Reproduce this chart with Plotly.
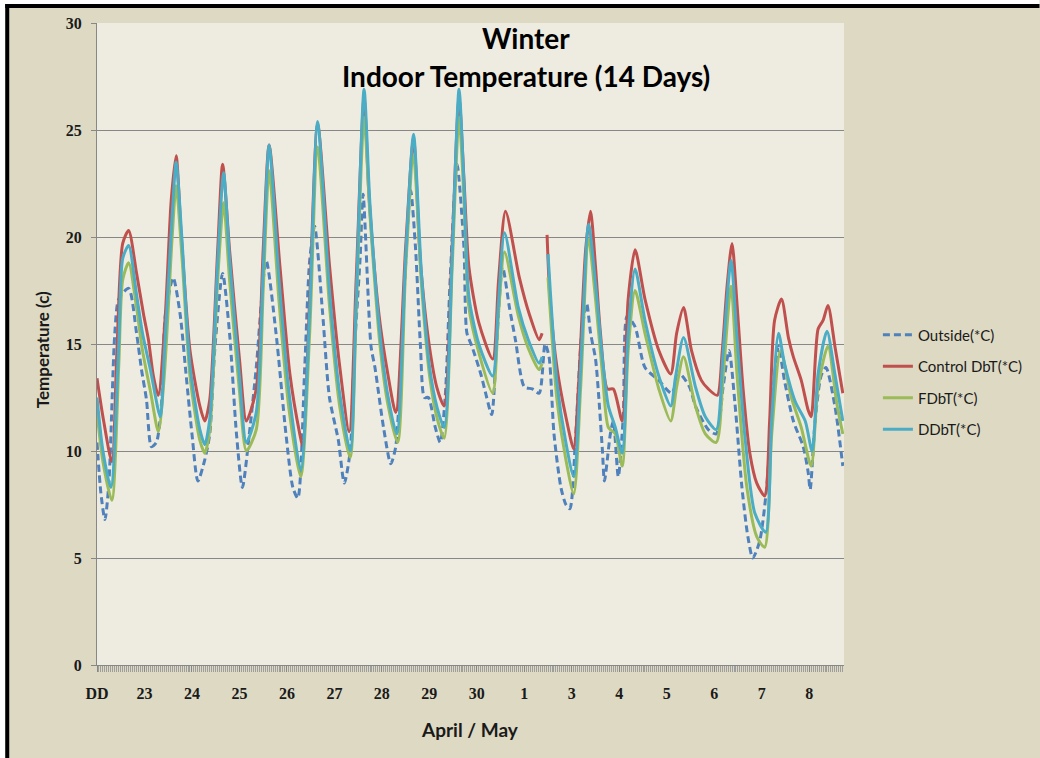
import plotly.graph_objects as go

# ---------------- data (hours since start of record, temperature in deg C) ----------------
day_labels = ["DD", "23", "24", "25", "26", "27", "28", "29", "30", "1", "3", "4", "5", "6", "7", "8"]

outside_h = [0, 2, 4, 6, 9, 11, 16, 20, 22.5, 25, 27.5, 30, 32.5, 34.5, 38.5, 42, 45, 48, 51, 54.5, 57,
             59.5, 63.5, 67, 70.5, 73.5, 77, 80.5, 85.5, 90.5, 95.5, 99, 101.5, 105, 107.5, 110, 114,
             117.5, 122, 125, 128, 130, 133, 134.5, 138.5, 140.5, 145, 148.5, 151, 154, 158.5, 161,
             163.5, 165.5, 167.5, 171, 173.5, 176, 178.5, 182, 185.5, 187, 189.5, 194, 197, 199.5, 202,
             205, 208.5, 211.5, 216, 220, 223.5, 226.5, 228.5, 231, 234.5, 237, 239, 242, 245, 247.5,
             249.5, 252, 253.5, 255.5, 256.5, 259.5, 261, 263.5, 266, 268, 272, 277, 284, 290.5, 294.5,
             299.5, 302.5, 309, 313, 316.5, 319.5, 322.5, 326, 329, 331.5, 335, 338.5, 342, 344.5, 347.5,
             352, 357, 359.5, 360.5, 363, 366, 368.5, 373, 377]
outside_t = [10.4, 8.0, 6.8, 8.5, 15.5, 17.1, 17.6, 15.5, 13.8, 12.4, 10.2, 10.4, 12.1, 16.3, 18.1, 16.4,
             13.6, 10.8, 8.6, 9.6, 10.8, 14.7, 18.3, 15.5, 10.8, 8.3, 10.8, 13.9, 18.9, 15.5, 10.8, 8.3,
             7.8, 13.9, 18.9, 20.5, 16.5, 12.5, 10.5, 8.5, 10.0, 14.5, 19.0, 22.0, 14.9, 13.9, 11.0, 9.4,
             10.2, 15.0, 22.2, 19.5, 14.9, 12.5, 12.5, 11.1, 10.4, 12.5, 18.0, 23.4, 19.5, 15.5, 14.9,
             13.6, 12.5, 11.7, 15.0, 18.6, 16.7, 15.2, 13.0, 12.9, 12.7, 15.0, 14.4, 10.8, 8.3, 7.5, 7.3,
             10.8, 15.5, 16.9, 15.5, 14.3, 12.7, 10.0, 8.6, 10.8, 11.4, 8.8, 11.6, 16.3, 15.8, 13.9, 13.3,
             12.7, 13.6, 13.0, 12.1, 11.0, 10.8, 13.0, 14.7, 12.2, 8.3, 6.0, 5.0, 5.8, 8.3, 13.0, 14.9,
             13.3, 11.4, 10.2, 9.0, 8.2, 11.4, 13.5, 13.9, 12.1, 9.3]

control_h = [0, 3, 7.5, 10, 13, 16, 20, 23.5, 26, 28.5, 31, 34.5, 37.5, 40, 42.5, 47, 52, 54.5, 57, 61,
             63.5, 67, 72, 75.5, 80.5, 84, 87, 92.5, 97.5, 102.5, 104, 107.5, 111.5, 117.5, 122.5, 127.5,
             131, 135, 137.5, 142.5, 147, 151, 156, 160, 163.5, 168, 172, 175.5, 179.5, 183, 185.5, 188,
             193, 200, 203, 206.5, 213.5, 218.5, 223.5, 225, 226, 227.5, 229, 232.5, 237, 241, 243.5, 247,
             249.5, 252, 254.5, 258, 261, 265.5, 268.5, 272, 277, 284, 290, 293, 296.5, 300.5, 305.5, 309,
             313.5, 316, 318.5, 321, 323.5, 326.5, 330, 333.5, 337.5, 340, 342.5, 346, 349.5, 352, 356,
             359.5, 361, 364.5, 367, 369.5, 373, 377]
control_t = [13.4, 11.6, 9.5, 14.5, 19.7, 20.3, 18.3, 16.4, 15.2, 13.5, 12.6, 16.3, 21.7, 23.8, 20.2, 14.7,
             12.1, 11.4, 12.4, 19.4, 23.4, 19.4, 14.3, 11.4, 12.9, 19.4, 24.3, 18.6, 13.6, 10.8, 10.2, 17.1,
             25.3, 18.7, 14.1, 10.9, 18.0, 26.5, 21.9, 16.4, 13.6, 11.8, 19.5, 24.6, 18.8, 14.9, 12.9, 12.1,
             19.5, 26.5, 22.7, 18.6, 16.0, 14.3, 18.0, 21.2, 18.1, 16.4, 15.2, 15.5, None, 20.1, 17.1, 13.9,
             11.6, 10.1, 13.2, 19.4, 21.2, 18.6, 15.5, 12.9, 12.9, 11.4, 17.1, 19.4, 17.1, 14.7, 13.6, 15.5,
             16.7, 14.7, 13.3, 12.9, 12.6, 14.6, 17.7, 19.7, 16.9, 13.0, 9.9, 8.5, 7.9, 11.4, 16.1, 17.1,
             15.3, 14.4, 13.3, 11.9, 11.6, 15.7, 16.1, 16.8, 14.9, 12.7]

fdbt_h = [0, 3, 7.5, 11, 13, 16, 20, 23, 27, 31, 34, 38, 40, 43, 47, 52, 54.5, 57, 61, 64, 67, 72, 75.5,
          80.5, 84, 87, 92, 97, 103, 107.5, 111.5, 117.5, 122.5, 128, 131, 135, 138, 143, 147, 152, 156,
          160, 164, 168, 172, 175.5, 179.5, 183, 185.5, 188, 193, 200, 203, 206, 213, 218, 223.5, 225,
          226, 228, 232.5, 237, 241, 244.5, 248.5, 252, 255.5, 258.5, 262, 265.5, 268.5, 272, 277, 284,
          290, 293, 296.5, 302.5, 307.5, 313, 316.5, 320.5, 323.5, 328.5, 333.5, 337.5, 341, 345.5, 351,
          356, 361, 364.5, 369.5, 374, 377]
fdbt_t = [11.8, 9.5, 7.7, 14.0, 18.0, 18.8, 16.7, 14.7, 12.8, 10.9, 13.5, 20.0, 22.4, 19.0, 13.5, 10.5,
          9.9, 11.0, 18.0, 21.6, 18.0, 12.8, 10.0, 11.0, 17.5, 23.1, 17.0, 12.0, 8.8, 15.5, 24.2, 16.8,
          12.2, 9.7, 16.5, 25.6, 21.0, 15.0, 12.2, 10.4, 18.5, 23.8, 17.8, 13.6, 11.5, 10.6, 18.5, 25.6,
          21.8, 16.7, 14.6, 12.7, 16.5, 19.3, 16.3, 14.8, 13.8, 14.1, None, 18.1, 12.4, 9.6, 8.0, 13.0,
          19.9, 17.1, 13.6, 11.1, 10.8, 9.3, 14.7, 17.5, 15.5, 12.9, 11.4, 13.0, 14.4, 12.1, 10.8, 10.4,
          13.5, 17.7, 13.6, 8.3, 6.0, 5.5, 10.7, 14.7, 12.5, 11.1, 9.3, 13.0, 14.9, 12.2, 10.8]

ddbt_h = [0, 3, 7, 11, 13, 16, 20, 23, 27, 32, 34, 38, 40, 43, 47, 52, 54.5, 57, 61, 64, 67, 72, 75.5,
          80.5, 84, 87, 92, 97, 103, 107.5, 111.5, 117.5, 122.5, 128, 131, 135, 138, 143, 147, 151.5,
          156, 160, 164, 168, 172, 175.5, 179.5, 183, 185.5, 188, 193, 200, 203, 206, 213, 218, 223.5,
          225, 226, 228, 232.5, 237, 241, 244.5, 248.5, 252, 255.5, 258.5, 262, 265.5, 268.5, 272, 277,
          284, 290, 292.5, 296.5, 302.5, 307.5, 313, 316.5, 320.5, 323.5, 327.5, 332.5, 338, 341, 344.5,
          347.5, 353, 358, 361.5, 364.5, 369, 373, 377]
ddbt_t = [12.5, 10.0, 8.3, 15.0, 19.0, 19.6, 17.3, 15.5, 13.8, 11.6, 14.5, 21.0, 23.5, 19.8, 14.0, 11.0,
          10.3, 11.5, 18.8, 23.0, 19.0, 13.5, 10.4, 11.8, 18.5, 24.3, 18.0, 12.8, 9.1, 16.5, 25.4, 17.5,
          12.8, 10.0, 17.0, 26.9, 21.5, 15.5, 12.6, 10.8, 19.0, 24.8, 18.3, 14.0, 12.0, 11.1, 19.0, 26.9,
          22.5, 17.2, 15.0, 13.5, 17.0, 20.2, 16.7, 15.2, 14.1, 14.4, None, 19.2, 13.2, 10.4, 8.8, 13.9,
          20.6, 17.8, 14.3, 12.1, 11.1, 9.9, 15.5, 18.5, 16.1, 13.5, 12.1, 13.5, 15.3, 13.0, 11.6, 11.0,
          14.6, 18.9, 15.3, 10.7, 7.1, 6.2, 11.4, 15.5, 14.1, 12.3, 11.4, 10.0, 13.6, 15.6, 13.6, 11.4]

series = [
    ("Outside(*C)", outside_h, outside_t, "#4F81BD", "7px,4px"),
    ("Control DbT(*C)", control_h, control_t, "#C0504D", "solid"),
    ("FDbT(*C)", fdbt_h, fdbt_t, "#9BBB59", "solid"),
    ("DDbT(*C)", ddbt_h, ddbt_t, "#4BACC6", "solid"),
]

# ---------------- layout geometry (pixels) ----------------
W, H = 1040, 758
PL, PR, PT, PB = 97, 846, 23, 665
def px(x):
    return (x - PL) / (PR - PL)
def py(y):
    return (PB - y) / (PB - PT)

BG_OUT = "#DDD9C3"
BG_IN = "#EEECE1"
GRID = "#878787"
SANS = "Lato, 'Open Sans', sans-serif"
SERIF = "'Liberation Serif', 'DejaVu Serif', serif"

fig = go.Figure()
for i, (name, hx, ty, col, dash) in enumerate(series):
    fig.add_trace(go.Scatter(
        x=hx, y=ty, mode="lines", name=name, legendgroup=f"g{i}",
        line=dict(color=col, width=3, dash=dash, shape="spline", smoothing=0.7),
        connectgaps=False,
    ))

fig.update_layout(
    width=W, height=H,
    margin=dict(l=PL, r=W - PR, t=PT, b=H - PB, pad=0),
    paper_bgcolor=BG_OUT, plot_bgcolor=BG_IN,
    showlegend=True,
    legend=dict(
        x=px(880), y=py(382), xanchor="left", yanchor="middle",
        bgcolor="rgba(0,0,0,0)", borderwidth=0,
        font=dict(family=SANS, size=15, color="#1a1a1a"),
        traceorder="grouped", tracegroupgap=9,
    ),
    xaxis=dict(
        range=[0, 377.6],
        tickmode="array",
        tickvals=[24 * i for i in range(len(day_labels))],
        ticktext=day_labels,
        ticks="outside", ticklen=6, tickcolor=GRID, tickwidth=1,
        minor=dict(dtick=1, tick0=0, ticks="outside", ticklen=6, tickcolor="#9d9d9d", tickwidth=1, showgrid=False),
        showgrid=False, zeroline=False,
        showline=True, linecolor=GRID, linewidth=1,
        tickfont=dict(family=SERIF, size=16, color="#1a1a1a", weight="bold"),
        ticklabelstandoff=8,
    ),
    yaxis=dict(
        range=[0, 30], dtick=5, tick0=0,
        ticks="outside", ticklen=5, tickcolor=GRID,
        showgrid=True, gridcolor=GRID, gridwidth=1,
        zeroline=False, showline=True, linecolor=GRID, linewidth=1,
        tickfont=dict(family=SERIF, size=16, color="#1a1a1a", weight="bold"),
        ticklabelstandoff=6,
    ),
    annotations=[
        dict(text="<b>Winter</b>", x=px(527), y=py(38), xref="paper", yref="paper",
             showarrow=False, xanchor="center", yanchor="middle",
             font=dict(family=SANS, size=28, color="#000000")),
        dict(text="<b>Indoor Temperature (14 Days)</b>", x=px(527), y=py(76), xref="paper", yref="paper",
             showarrow=False, xanchor="center", yanchor="middle",
             font=dict(family=SANS, size=28, color="#000000")),
        dict(text="<b>Temperature (c)</b>", x=px(42), y=py(350), xref="paper", yref="paper",
             showarrow=False, xanchor="center", yanchor="middle", textangle=-90,
             font=dict(family=SANS, size=17, color="#1a1a1a")),
        dict(text="<b>April / May</b>", x=px(471), y=py(729), xref="paper", yref="paper",
             showarrow=False, xanchor="center", yanchor="middle",
             font=dict(family=SANS, size=19, color="#1a1a1a")),
    ],
    shapes=[
        dict(type="rect", xref="paper", yref="paper", x0=px(-2), x1=px(5), y0=py(-2), y1=py(H + 2),
             fillcolor="white", line=dict(width=0), layer="above"),
        dict(type="rect", xref="paper", yref="paper", x0=px(-2), x1=px(W + 2), y0=py(-2), y1=py(4),
             fillcolor="white", line=dict(width=0), layer="above"),
        dict(type="line", xref="paper", yref="paper", x0=px(7), x1=px(7), y0=py(4), y1=py(H + 2),
             line=dict(color="black", width=4), layer="above"),
        dict(type="line", xref="paper", yref="paper", x0=px(5), x1=px(W + 2), y0=py(6), y1=py(6),
             line=dict(color="black", width=4), layer="above"),
    ],
)

fig.write_html(
    "out.html",
    config={"displayModeBar": False},
    post_script="document.body.style.margin='0';document.body.style.overflow='hidden';",
)
